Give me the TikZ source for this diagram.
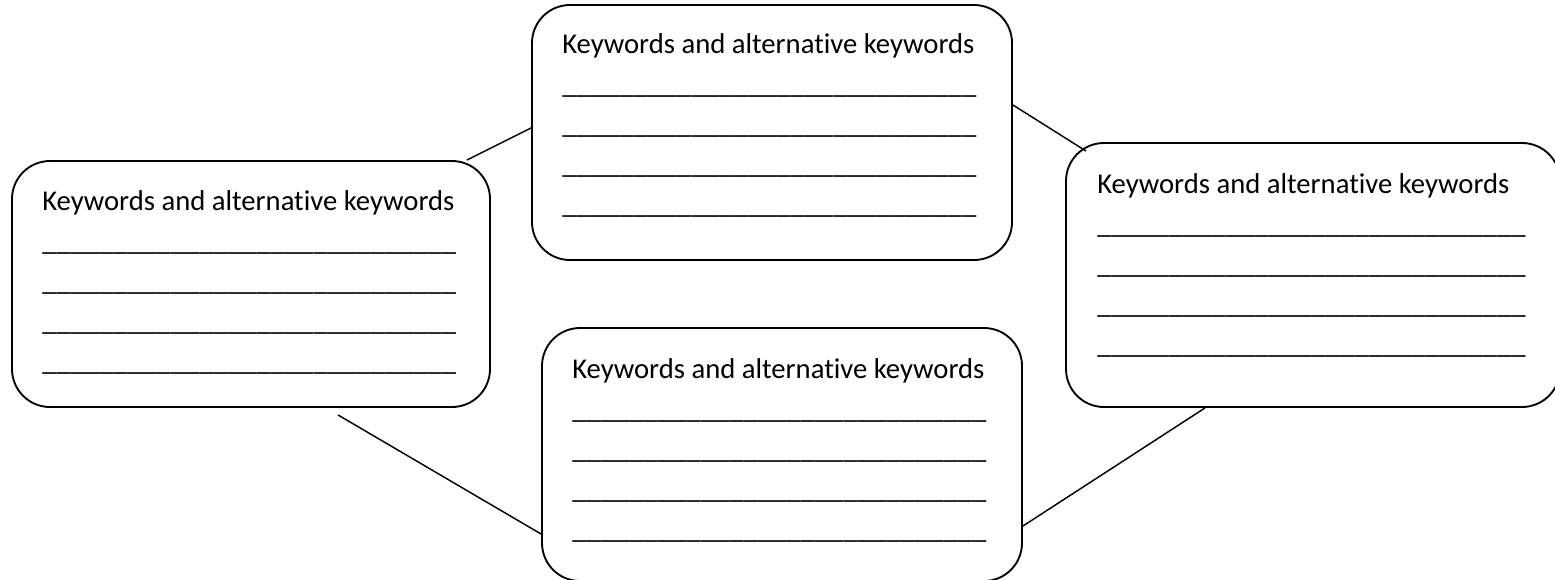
\documentclass[tikz,border=0pt]{standalone}
\usepackage{fontspec}
\setmainfont{Carlito}[Ligatures=NoCommon]
\usetikzlibrary{calc}

\newcommand{\kwblank}[1]{\foreach \i in {1,...,#1}{\_}}
\newcommand{\kwsheet}[1]{Keywords and alternative keywords\\\kwblank{#1}\\\kwblank{#1}\\\kwblank{#1}\\\kwblank{#1}}

\tikzset{
	kwbox/.style={draw=black, line width=1.4pt, rounded corners=28.5pt, inner sep=0pt},
	% base west sits on the last blank line
	kwtext/.style={anchor=base west, align=left, inner sep=0pt, font=\fontsize{21.5}{30}\selectfont},
	link/.style={draw=black, line width=1.1pt}
}

\begin{document}
\begin{tikzpicture}[x=0.75pt,y=0.75pt,yscale=-1,xscale=1]
	\useasboundingbox (0,0) rectangle (1555,579);
	\clip (0,0) rectangle (1555,579);
	
	%Shape: Rounded Rect [left]
	\node [kwbox, minimum width=358.5pt, minimum height=184.5pt] (A) at (251,284) {};
	%Shape: Rounded Rect [top]
	\node [kwbox, minimum width=360pt, minimum height=191.25pt] (B) at (772,132.5) {};
	%Shape: Rounded Rect [right]
	\node [kwbox, minimum width=370.5pt, minimum height=198pt] (C) at (1313,275) {};
	%Shape: Rounded Rect [bottom]
	\node [kwbox, minimum width=360pt, minimum height=189.75pt] (D) at (782,454.5) {};
	
	% Text Node
	\node [kwtext] (At) at (42,370) {\kwsheet{29}};
	% Text Node
	\node [kwtext] (Bt) at (562,213) {\kwsheet{29}};
	% Text Node
	\node [kwtext] (Ct) at (1097,353) {\kwsheet{30}};
	% Text Node
	\node [kwtext] (Dt) at (572,538) {\kwsheet{29}};
	
	%Straight Lines
	\draw [link] ($(A.north east)+(-24,0)$) -- ($(B.west)+(0,-4.5)$);
	\draw [link] ($(B.east)+(0,-27.5)$) -- ($(C.north west)+(21,9)$);
	\draw [link] ($(A.south)+(87,7)$) -- ($(D.west)+(0,79.5)$);
	\draw [link] ($(C.south)+(-108,0)$) -- ($(D.east)+(0,71.5)$);
	
\end{tikzpicture}
\end{document}
